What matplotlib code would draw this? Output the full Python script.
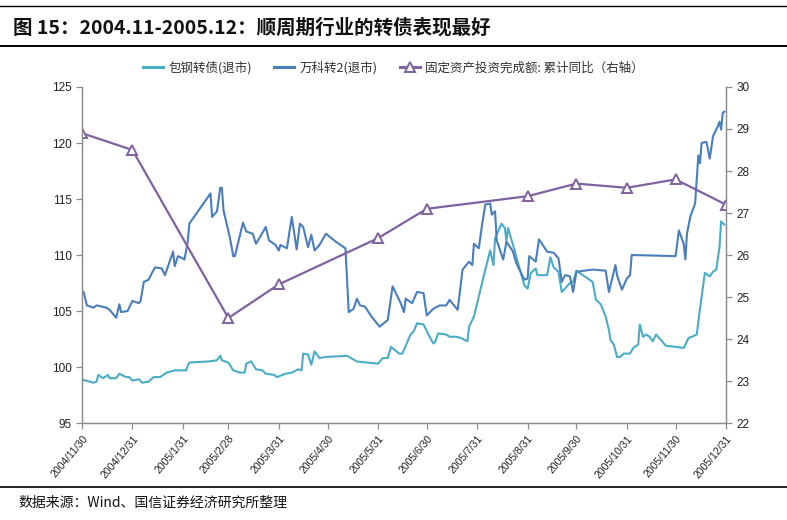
import matplotlib
matplotlib.use("Agg")
import matplotlib.pyplot as plt
import matplotlib.dates as mdates
import pandas as pd
from matplotlib.lines import Line2D

plt.rcParams['font.family'] = ['Noto Sans CJK SC', 'DejaVu Sans']

# 包钢转债 (退市) - daily close
baogang_dates = [
    '2004-11-30', '2004-12-02', '2004-12-07', '2004-12-09', '2004-12-10', '2004-12-13',
    '2004-12-16', '2004-12-17', '2004-12-21', '2004-12-23', '2004-12-27', '2004-12-29',
    '2004-12-31', '2005-01-04', '2005-01-06', '2005-01-10', '2005-01-13', '2005-01-17',
    '2005-01-21', '2005-01-26', '2005-02-02', '2005-02-03', '2005-02-04', '2005-02-16',
    '2005-02-21', '2005-02-23', '2005-02-24', '2005-02-28', '2005-03-03', '2005-03-07',
    '2005-03-10', '2005-03-11', '2005-03-14', '2005-03-17', '2005-03-21', '2005-03-23',
    '2005-03-28', '2005-03-30', '2005-04-04', '2005-04-08', '2005-04-12', '2005-04-14',
    '2005-04-15', '2005-04-18', '2005-04-20', '2005-04-21', '2005-04-22', '2005-04-25',
    '2005-04-29', '2005-05-12', '2005-05-18', '2005-05-24', '2005-05-31', '2005-06-03',
    '2005-06-06', '2005-06-08', '2005-06-13', '2005-06-15', '2005-06-20', '2005-06-22',
    '2005-06-24', '2005-06-28', '2005-07-01', '2005-07-04', '2005-07-05', '2005-07-07',
    '2005-07-12', '2005-07-14', '2005-07-18', '2005-07-21', '2005-07-25', '2005-07-26',
    '2005-07-29', '2005-08-01', '2005-08-04', '2005-08-08', '2005-08-10', '2005-08-11',
    '2005-08-15', '2005-08-17', '2005-08-18', '2005-08-19', '2005-08-23', '2005-08-26',
    '2005-08-29', '2005-08-31', '2005-09-02', '2005-09-05', '2005-09-06', '2005-09-12',
    '2005-09-14', '2005-09-16', '2005-09-19', '2005-09-21', '2005-09-23', '2005-09-26',
    '2005-09-28', '2005-09-30', '2005-10-05', '2005-10-10', '2005-10-12', '2005-10-15',
    '2005-10-18', '2005-10-20', '2005-10-21', '2005-10-23', '2005-10-25', '2005-10-27',
    '2005-10-29', '2005-11-02', '2005-11-04', '2005-11-07', '2005-11-08', '2005-11-10',
    '2005-11-12', '2005-11-14', '2005-11-16', '2005-11-18', '2005-11-21', '2005-11-24',
    '2005-11-30', '2005-12-05', '2005-12-08', '2005-12-10', '2005-12-13', '2005-12-15',
    '2005-12-18', '2005-12-21', '2005-12-23', '2005-12-25', '2005-12-27', '2005-12-28',
    '2005-12-30',
]
baogang_values = [
    98.9, 98.8, 98.6, 98.7, 99.3, 99.0,
    99.3, 99.0, 99.0, 99.4, 99.1, 99.1,
    98.8, 98.9, 98.6, 98.7, 99.1, 99.1,
    99.5, 99.7, 99.7, 100.1, 100.4, 100.5,
    100.6, 101.0, 100.6, 100.4, 99.7, 99.5,
    99.5, 100.3, 100.5, 99.8, 99.7, 99.4,
    99.3, 99.1, 99.4, 99.5, 99.8, 99.7,
    101.2, 101.1, 100.2, 100.8, 101.4, 100.8,
    100.9, 101.0, 100.5, 100.4, 100.3, 100.8,
    100.8, 101.8, 101.2, 101.2, 102.9, 103.2,
    103.9, 103.8, 102.9, 102.1, 102.2, 103.0,
    102.9, 102.7, 102.7, 102.6, 102.3, 103.6,
    104.5, 106.3, 108.1, 110.4, 109.1, 111.5,
    112.8, 112.4, 111.3, 112.4, 110.4, 108.8,
    107.3, 107.0, 108.4, 108.8, 108.2, 108.2,
    109.8, 108.9, 108.5, 106.7, 107.0, 107.5,
    107.6, 108.6, 108.1, 107.6, 106.0, 105.6,
    104.5, 103.3, 102.4, 102.0, 100.9, 100.9,
    101.2, 101.2, 101.7, 102.0, 103.8, 102.7,
    102.9, 102.7, 102.3, 102.9, 102.4, 101.9,
    101.8, 101.7, 102.6, 102.7, 102.9, 105.2,
    108.4, 108.1, 108.5, 108.7, 110.7, 113.0,
    112.7,
]

# 万科转2 (退市)
vanke_dates = [
    '2004-11-30', '2004-12-01', '2004-12-03', '2004-12-07', '2004-12-09', '2004-12-15',
    '2004-12-17', '2004-12-21', '2004-12-23', '2004-12-24', '2004-12-28', '2004-12-31',
    '2005-01-04', '2005-01-05', '2005-01-07', '2005-01-10', '2005-01-12', '2005-01-14',
    '2005-01-18', '2005-01-20', '2005-01-25', '2005-01-26', '2005-01-28', '2005-01-31',
    '2005-02-01', '2005-02-03', '2005-02-04', '2005-02-17', '2005-02-18', '2005-02-21',
    '2005-02-23', '2005-02-24', '2005-02-25', '2005-03-01', '2005-03-03', '2005-03-04',
    '2005-03-09', '2005-03-11', '2005-03-15', '2005-03-17', '2005-03-23', '2005-03-25',
    '2005-03-29', '2005-03-31', '2005-04-01', '2005-04-05', '2005-04-08', '2005-04-11',
    '2005-04-13', '2005-04-15', '2005-04-18', '2005-04-20', '2005-04-22', '2005-04-25',
    '2005-04-29', '2005-05-05', '2005-05-11', '2005-05-13', '2005-05-16', '2005-05-18',
    '2005-05-20', '2005-05-23', '2005-05-27', '2005-06-01', '2005-06-06', '2005-06-09',
    '2005-06-13', '2005-06-14', '2005-06-16', '2005-06-17', '2005-06-21', '2005-06-24',
    '2005-06-28', '2005-06-30', '2005-07-04', '2005-07-08', '2005-07-12', '2005-07-14',
    '2005-07-19', '2005-07-22', '2005-07-26', '2005-07-28', '2005-07-29', '2005-08-01',
    '2005-08-03', '2005-08-05', '2005-08-08', '2005-08-09', '2005-08-11', '2005-08-12',
    '2005-08-16', '2005-08-18', '2005-08-22', '2005-08-24', '2005-08-29', '2005-08-31',
    '2005-09-01', '2005-09-05', '2005-09-07', '2005-09-12', '2005-09-16', '2005-09-19',
    '2005-09-21', '2005-09-23', '2005-09-26', '2005-09-28', '2005-09-30', '2005-10-10',
    '2005-10-18', '2005-10-20', '2005-10-24', '2005-10-25', '2005-10-28', '2005-10-31',
    '2005-11-02', '2005-11-03', '2005-11-30', '2005-12-02', '2005-12-05', '2005-12-06',
    '2005-12-07', '2005-12-09', '2005-12-12', '2005-12-14', '2005-12-15', '2005-12-16',
    '2005-12-19', '2005-12-21', '2005-12-23', '2005-12-26', '2005-12-27', '2005-12-28',
    '2005-12-29', '2005-12-30',
]
vanke_values = [
    106.8, 106.7, 105.5, 105.3, 105.5, 105.3,
    105.1, 104.4, 105.6, 104.9, 105.0, 105.9,
    105.7, 105.9, 107.6, 107.8, 108.4, 108.9,
    108.8, 108.2, 110.3, 109.0, 109.9, 109.7,
    109.6, 111.2, 112.8, 115.5, 113.4, 113.9,
    116.0, 116.0, 114.0, 111.5, 109.9, 109.9,
    112.9, 112.1, 111.9, 111.0, 112.5, 111.3,
    110.9, 110.4, 110.9, 110.6, 113.4, 110.5,
    112.8, 112.5, 110.7, 111.8, 110.4, 110.9,
    111.9, 111.2, 110.6, 104.9, 105.2, 106.1,
    105.5, 105.4, 104.5, 103.6, 104.2, 107.2,
    106.0, 105.7, 104.9, 106.1, 105.7, 106.7,
    106.6, 104.6, 105.2, 105.5, 105.5, 106.0,
    105.1, 108.7, 109.4, 109.1, 111.0, 110.6,
    112.7, 114.5, 114.6, 113.6, 113.9, 111.3,
    109.6, 111.2, 110.3, 109.3, 107.8, 107.9,
    109.9, 109.4, 111.4, 110.3, 110.2, 109.7,
    107.6, 108.2, 108.1, 106.7, 108.5, 108.7,
    108.6, 106.7, 109.1, 108.2, 106.9, 107.9,
    108.2, 110.0, 109.9, 112.2, 111.0, 109.6,
    111.9, 113.4, 114.6, 118.9, 118.2, 120.0,
    120.1, 118.6, 120.6, 121.5, 121.9, 121.2,
    122.7, 122.8,
]

# 固定资产投资完成额: 累计同比 (右轴)
fai_dates = ['2004-11-30', '2004-12-31', '2005-02-28', '2005-03-31', '2005-05-31', '2005-06-30',
             '2005-08-31', '2005-09-30', '2005-10-31', '2005-11-30', '2005-12-31']
fai_values = [28.9, 28.5, 24.5, 25.3, 26.4, 27.1, 27.4, 27.7, 27.6, 27.8, 27.2]

tick_dates = ['2004-11-30', '2004-12-31', '2005-01-31', '2005-02-28', '2005-03-31', '2005-04-30',
              '2005-05-31', '2005-06-30', '2005-07-31', '2005-08-31', '2005-09-30', '2005-10-31',
              '2005-11-30', '2005-12-31']

c_baogang = '#4BACC6'
c_vanke = '#4A7EBB'
c_fai = '#7F62A0'
axis_gray = '#8C8C8C'

fig = plt.figure(figsize=(7.87, 5.2), dpi=100)
ax = fig.add_axes([0.1042, 0.1865, 0.8183, 0.6462])
ax2 = ax.twinx()

ax.plot(pd.to_datetime(baogang_dates), baogang_values, color=c_baogang, lw=1.5)
ax.plot(pd.to_datetime(vanke_dates), vanke_values, color=c_vanke, lw=1.5)
ax2.plot(pd.to_datetime(fai_dates), fai_values, color=c_fai, lw=1.6,
         marker='^', ms=7, mfc='white', mec=c_fai, mew=1.4)

ax.set_ylim(95, 125)
ax.set_yticks(range(95, 126, 5))
ax2.set_ylim(22, 30)
ax2.set_yticks(range(22, 31))
ax.set_xlim(pd.Timestamp('2004-11-30'), pd.Timestamp('2005-12-31'))

ticks = pd.to_datetime(tick_dates)
ax.set_xticks(ticks)
ax.set_xticklabels([f"{d.year}/{d.month}/{d.day}" for d in ticks], rotation=50,
                   ha='right', rotation_mode='anchor', fontsize=7.5,
                   family=['Liberation Sans', 'DejaVu Sans'])

for a in (ax, ax2):
    for s in a.spines.values():
        s.set_color(axis_gray)
        s.set_linewidth(0.9)
    a.spines['top'].set_visible(False)
    a.tick_params(colors=axis_gray, labelcolor='#222222', length=4, width=0.9)
ax.tick_params(axis='y', labelsize=8.5)
ax2.tick_params(axis='y', labelsize=8.5)
for lbl in ax.get_yticklabels() + ax2.get_yticklabels():
    lbl.set_family(['Liberation Sans', 'DejaVu Sans'])

handles = [
    Line2D([], [], color=c_baogang, lw=2.2),
    Line2D([], [], color=c_vanke, lw=2.2),
    Line2D([], [], color=c_fai, lw=2.2, marker='^', ms=7, mfc='white', mec=c_fai, mew=1.4),
]
labels = ['包钢转债(退市)', '万科转2(退市)', '固定资产投资完成额: 累计同比（右轴）']
fig.legend(handles, labels, loc='center', bbox_to_anchor=(0.50, 0.869), ncol=3,
           frameon=False, fontsize=9, handlelength=1.6, handletextpad=0.4,
           columnspacing=1.8, labelcolor='#333333')

# title and separating rules
fig.text(0.017, 0.946, '图 15：2004.11-2005.12：顺周期行业的转债表现最好', fontsize=14,
         fontweight='bold', va='center', ha='left', color='#111111')
fig.add_artist(Line2D([0.0, 1.0], [0.988, 0.988], color='black', lw=1.0))
fig.add_artist(Line2D([0.0, 1.0], [0.911, 0.911], color='black', lw=1.4))
fig.add_artist(Line2D([0.0, 1.0], [0.063, 0.063], color='black', lw=1.2))
fig.text(0.023, 0.033, '数据来源：Wind、国信证券经济研究所整理', fontsize=10,
         va='center', ha='left', color='#111111')

fig.savefig('out.png', dpi=100)
